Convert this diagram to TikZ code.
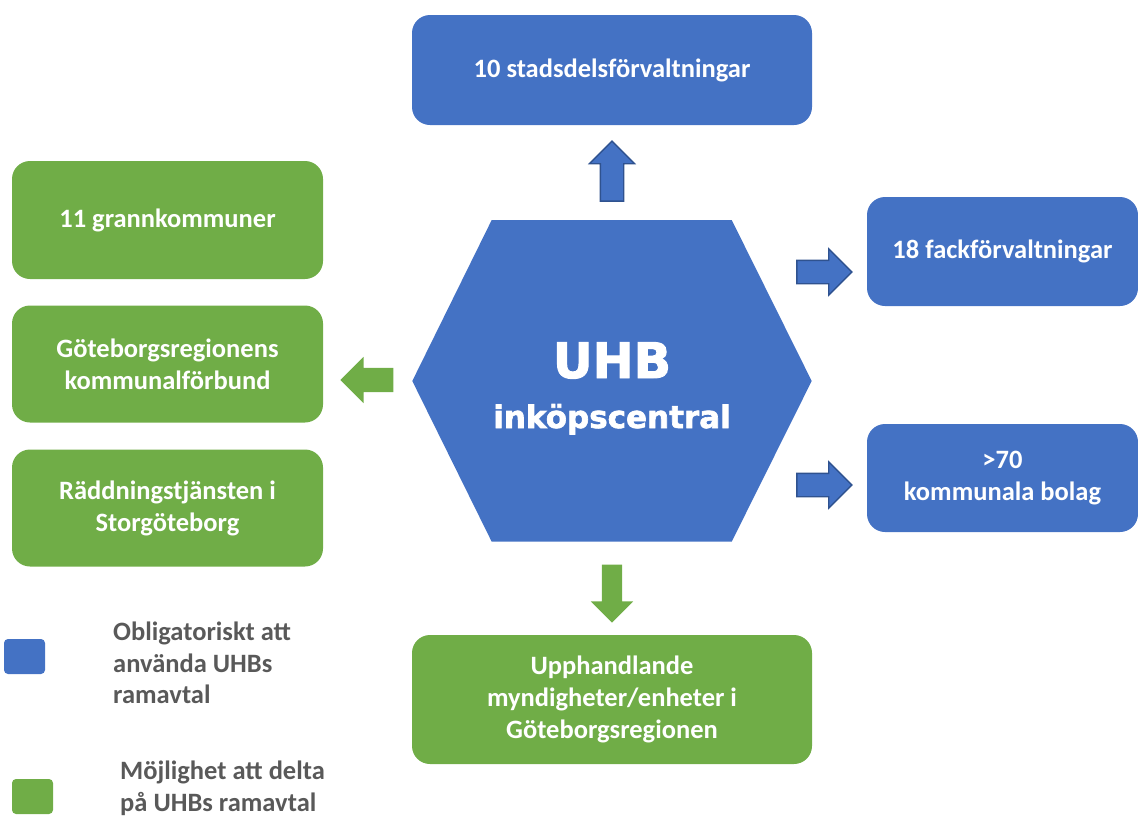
\documentclass[tikz,border=0pt]{standalone}
\usepackage{fontspec}
\setmainfont{Carlito}
\newfontfamily\hexfont{DejaVu Sans}[BoldFeatures={FakeBold=2}]
\usetikzlibrary{shapes.arrows,positioning}
\definecolor{uhbblue}{HTML}{4472C4}
\definecolor{uhbgreen}{HTML}{70AD47}
\definecolor{uhbdark}{HTML}{2F528F}
\definecolor{leggray}{HTML}{595959}

\tikzset{
  unitbox/.style={rectangle, rounded corners=18pt, inner sep=0pt, align=center,
    text=white, font=\fontsize{26.5}{32}\selectfont\bfseries},
  bluebox/.style={unitbox, fill=uhbblue},
  greenbox/.style={unitbox, fill=uhbgreen},
  blockarrow/.style={single arrow, single arrow head extend=11pt, inner xsep=0pt, inner ysep=11pt, anchor=tip},
  bluearrow/.style={blockarrow, fill=uhbblue, draw=uhbdark, line width=1.3pt},
  greenarrow/.style={blockarrow, fill=uhbgreen},
  legsquare/.style={rectangle, rounded corners=4pt, minimum width=41pt, minimum height=35pt},
  legtext/.style={anchor=west, inner sep=0pt, align=left, text=leggray,
    font=\fontsize{26.5}{31.5}\selectfont\bfseries},
}

\begin{document}
\begin{tikzpicture}[x=1pt,y=-1pt]
    \useasboundingbox (0,0) rectangle (1138,817);

    % central hexagon
    \fill[uhbblue] (412.3,381) -- (491.7,220) -- (731.7,220) -- (811.7,381)
        -- (731.7,541.7) -- (491.7,541.7) -- cycle;
    \node[anchor=base, text=white, font=\hexfont\bfseries\fontsize{49}{49}\selectfont] (uhb) at (612,378) {UHB};
    \node[anchor=base, text=white, font=\hexfont\bfseries\fontsize{31}{31}\selectfont] (inkop) at (612,428) {inköpscentral};

    % blue units
    \node[bluebox, minimum width=400pt, minimum height=110pt] (stad) at (612,70) {10 stadsdelsförvaltningar};
    \node[bluebox, minimum width=271pt, minimum height=109pt] (fack) at (1002.5,251.5) {18 fackförvaltningar};
    \node[bluebox, minimum width=271pt, minimum height=108pt] (bolag) at (1002.5,478) {>70\\kommunala bolag};

    % green units
    \node[greenbox, minimum width=311pt, minimum height=118pt] (grann) at (167.5,220) {11 grannkommuner};
    \node[greenbox, minimum width=311pt, minimum height=117pt] (gr) at (167.5,364) {Göteborgsregionens\\kommunalförbund};
    \node[greenbox, minimum width=311pt, minimum height=117pt] (rsg) at (167.5,508) {Räddningstjänsten i\\Storgöteborg};
    \node[greenbox, minimum width=400pt, minimum height=129pt] (upph) at (612,699.5) {Upphandlande\\myndigheter/enheter i\\Göteborgsregionen};

    % block arrows
    \node[bluearrow, rotate=90, minimum height=60pt] (arstad) at ([yshift=-15pt]stad.south) {};
    \node[bluearrow, single arrow head extend=11.5pt, minimum height=55pt] (arfack) at ([xshift=-14pt]fack.west |- 0,272) {};
    \node[bluearrow, single arrow head extend=11.5pt, minimum height=55pt] (arbolag) at ([xshift=-14pt]bolag.west |- 0,485) {};
    \node[greenarrow, rotate=180, inner ysep=12pt, minimum height=53pt] (argr) at ([xshift=17pt]gr.east |- 0,380) {};
    \node[greenarrow, rotate=-90, inner ysep=10pt, minimum height=58pt] (arupph) at ([yshift=12pt]upph.north) {};

    % legend
    \node[legsquare, fill=uhbblue] (legblue) at (24.5,656.5) {};
    \node[legtext] (legbluetext) at (113,663) {Obligatoriskt att\\använda UHBs\\ramavtal};
    \node[legsquare, fill=uhbgreen] (leggreen) at (32.5,796.5) {};
    \node[legtext] (leggreentext) at (120,788.5) {Möjlighet att delta\\på UHBs ramavtal};
\end{tikzpicture}
\end{document}
